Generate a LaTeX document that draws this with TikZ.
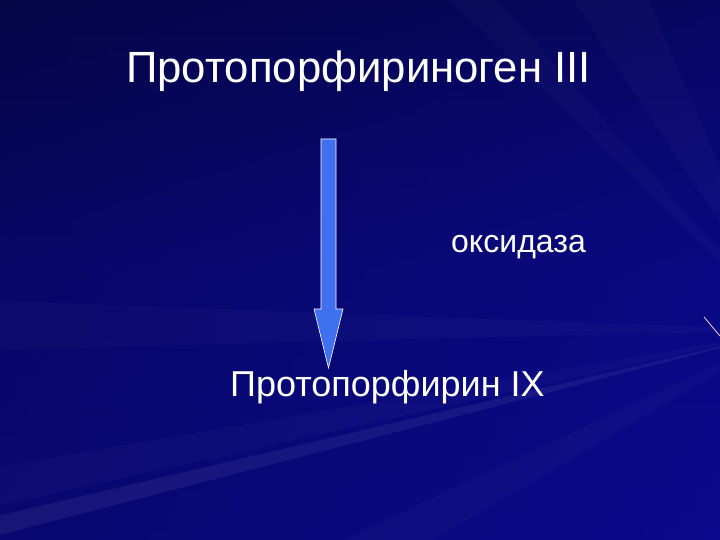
\documentclass[tikz,border=0pt]{standalone}
\usepackage{fontspec}
\setmainfont{Liberation Sans}
\usetikzlibrary{positioning, calc}

\definecolor{slidedark}{RGB}{5,5,70}
\definecolor{slidebase}{RGB}{10,10,140}
\definecolor{arrowblue}{RGB}{62,112,240}

\tikzset{
    title/.style={text=white, inner sep=0pt, anchor=base west},
    ray/.style={fill=white, opacity=0.025}
}

\begin{document}
\begin{tikzpicture}[x=1pt, y=-1pt]
    % Background of the slide
    \useasboundingbox (0,0) rectangle (720,540);
    \shade[top color=slidedark, bottom color=slidebase, middle color=slidebase!90!black] (0,0) rectangle (720,540);
    \shade[left color=slidedark, right color=slidebase, opacity=0.4] (0,0) rectangle (720,540);
    \begin{scope}
        \clip (0,0) rectangle (720,540);
        \coordinate (O) at (790,330);
        \fill[ray] (O) -- (560,-20) -- (640,-20) -- cycle;
        \fill[ray] (O) -- (430,-20) -- (480,-20) -- cycle;
        \fill[ray] (O) -- (-20,300) -- (-20,350) -- cycle;
        \fill[ray] (O) -- (-20,470) -- (-20,510) -- cycle;
        \fill[ray] (O) -- (300,560) -- (400,560) -- cycle;
        \fill[white, opacity=0.06] (O) -- (-20,520) -- (-20,540) -- cycle;
        \draw[pink!80!white, line width=0.8pt] (704,317) -- (720,336);
    \end{scope}

    % Substrate, enzyme and product
    \node[title, font=\fontsize{43.7}{48}\selectfont] (sub) at (126,83) {Протопорфириноген III};
    \node[title, font=\fontsize{32}{38}\selectfont] (enz) at (451,252) {оксидаза};
    \node[title, font=\fontsize{36}{42}\selectfont] (prod) at (230,396) {Протопорфирин IX};

    % Draw the reaction arrow
    \coordinate (start) at (328.5,139);
    \coordinate (tip) at (328.5,368);
    \draw[white, fill=arrowblue, line width=0.6pt, line join=miter]
        ($(start)+(-7.5,0)$) -- ($(start)+(7.5,0)$) -- ($(tip)+(7.5,-59)$)
        -- ($(tip)+(14.5,-59)$) -- (tip) -- ($(tip)+(-14.5,-59)$)
        -- ($(tip)+(-7.5,-59)$) -- cycle;
\end{tikzpicture}
\end{document}
